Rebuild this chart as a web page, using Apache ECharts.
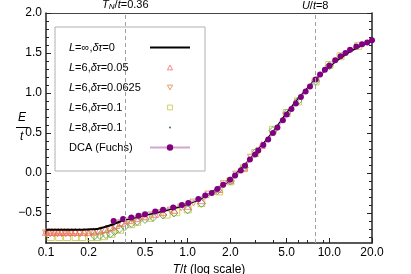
<!DOCTYPE html>
<html><head><meta charset="utf-8">
<script src="https://cdn.jsdelivr.net/npm/echarts@6/dist/echarts.min.js"></script>
<style>html,body{margin:0;padding:0;background:#fff}#c{width:411px;height:274px}</style>
</head><body><div id="c"></div>
<script>
// ---- tick labels / annotations ----
const xTickLabels = [0.1, 0.2, 0.5, 1, 2, 5, 10, 20];
const xMinorTicks = [0.3, 0.4, 0.6, 0.7, 0.8, 0.9, 3, 4, 6, 7, 8, 9];
const yTickLabels = [-0.5, 0, 0.5, 1, 1.5, 2];
const yMinorTicks = [-0.8, -0.7, -0.6, -0.4, -0.3, -0.2, -0.1, 0.1, 0.2, 0.3, 0.4, 0.6, 0.7, 0.8, 0.9, 1.1, 1.2, 1.3, 1.4, 1.6, 1.7, 1.8, 1.9];
const tNeel = 0.36;
const uOverT = 8;

// ---- series names ----
const nameInf = 'L=∞,δτ=0';
const name605 = 'L=6,δτ=0.05';
const name606 = 'L=6,δτ=0.0625';
const name61 = 'L=6,δτ=0.1';
const name81 = 'L=8,δτ=0.1';
const nameDCA = 'DCA (Fuchs)';

// ---- L=inf, dtau=0 (black curve) ----
const tInf = [0.1, 0.15, 0.2, 0.23, 0.25, 0.27, 0.3, 0.33, 0.37, 0.4, 0.46, 0.5, 0.6, 0.7, 0.8, 1.0, 1.2, 1.5, 2.0, 2.5, 3.0, 4.0, 5.0, 6.0, 8.0, 10, 12, 15, 20];
const eInf = [-0.71, -0.71, -0.705, -0.70, -0.685, -0.665, -0.64, -0.61, -0.58, -0.565, -0.54, -0.525, -0.495, -0.465, -0.44, -0.385, -0.33, -0.235, -0.08, 0.09, 0.245, 0.51, 0.745, 0.92, 1.17, 1.33, 1.44, 1.55, 1.65];

// ---- L=6, dtau=0.05 (red up triangles) ----
const t605 = [0.1, 0.105, 0.11, 0.116, 0.122, 0.128, 0.135, 0.143, 0.152, 0.161, 0.172, 0.185, 0.2, 0.217, 0.238, 0.263, 0.286, 0.313, 0.345, 0.385, 0.435, 0.5, 0.588, 0.667, 0.8, 1.0, 1.25, 1.667, 2.0, 2.5, 3.333];
const e605 = [-0.735, -0.735, -0.735, -0.735, -0.735, -0.735, -0.735, -0.735, -0.735, -0.735, -0.735, -0.735, -0.735, -0.73, -0.72, -0.70, -0.68, -0.65, -0.62, -0.59, -0.565, -0.54, -0.51, -0.49, -0.46, -0.41, -0.34, -0.20, -0.09, 0.07, 0.35];

// ---- L=6, dtau=0.0625 (orange down triangles) ----
const t606 = [0.1, 0.107, 0.114, 0.121, 0.129, 0.138, 0.148, 0.16, 0.174, 0.19, 0.21, 0.232, 0.256, 0.28, 0.307, 0.34, 0.38, 0.42, 0.48, 0.55, 0.64, 0.76, 0.9, 1.1, 1.4, 1.8, 2.2, 2.8];
const e606 = [-0.755, -0.755, -0.755, -0.755, -0.755, -0.755, -0.755, -0.755, -0.755, -0.755, -0.75, -0.74, -0.72, -0.70, -0.67, -0.64, -0.61, -0.585, -0.555, -0.53, -0.50, -0.47, -0.43, -0.37, -0.27, -0.14, -0.02, 0.19];

// ---- L=6, dtau=0.1 (yellow squares) ----
const t61 = [0.108, 0.124, 0.141, 0.162, 0.18, 0.207, 0.23, 0.257, 0.29, 0.333, 0.4, 0.44, 0.54, 0.71, 0.83, 1.0, 1.25, 1.667, 2.0, 2.5, 3.0, 4.0, 5.0, 6.0, 8.0, 10.0, 12.0, 16.0];
const e61 = [-0.80, -0.80, -0.80, -0.80, -0.80, -0.80, -0.80, -0.79, -0.76, -0.71, -0.64, -0.61, -0.56, -0.52, -0.49, -0.455, -0.375, -0.23, -0.105, 0.06, 0.25, 0.54, 0.75, 0.895, 1.145, 1.35, 1.46, 1.59];

// ---- L=8, dtau=0.1 (green) ----
const t81 = [0.22, 0.24, 0.265, 0.285, 0.305, 0.33, 0.36, 0.4, 0.44, 0.5, 0.57, 0.67, 0.8, 1.0, 1.25, 1.62, 2.0, 2.5, 3.06, 4.0, 5.0, 6.0, 8.0, 10.0];
const e81 = [-0.785, -0.78, -0.77, -0.76, -0.73, -0.70, -0.67, -0.63, -0.605, -0.58, -0.555, -0.525, -0.50, -0.46, -0.38, -0.22, -0.10, 0.07, 0.27, 0.53, 0.75, 0.90, 1.15, 1.34];

// ---- DCA (Fuchs) (purple) ----
const tDCA = [0.30, 0.35, 0.40, 0.45, 0.50, 0.59, 0.67, 0.79, 0.91, 1.01, 1.19, 1.33, 1.48, 1.62, 1.78, 1.99, 2.16, 2.37, 2.54, 2.75, 2.99, 3.15, 3.42, 3.7, 4.0, 4.3, 4.7, 5.0, 5.4, 5.8, 6.3, 6.8, 7.3, 8.0, 8.6, 9.3, 10, 11, 12, 13, 14, 15.5, 17, 18.5, 20];
const eDCA = [-0.60, -0.575, -0.555, -0.535, -0.515, -0.48, -0.46, -0.43, -0.40, -0.375, -0.325, -0.28, -0.25, -0.20, -0.146, -0.084, -0.03, 0.03, 0.09, 0.17, 0.23, 0.28, 0.35, 0.42, 0.50, 0.57, 0.66, 0.73, 0.80, 0.87, 0.95, 1.02, 1.08, 1.17, 1.23, 1.29, 1.34, 1.41, 1.46, 1.50, 1.54, 1.58, 1.61, 1.63, 1.66];

const FONT = 'Liberation Sans';
const lg = v => Math.log10(v);
const pts = (ts, es) => ts.map((t, i) => [lg(t), es[i]]);
const fmtX = v => (Math.round(Math.pow(10, v) * 10) / 10).toFixed(1);
const fmtY = v => (v < 0 ? '\u2212' : '') + Math.abs(v).toFixed(1);
// every token aligned left so the legend text starts at a common left edge
const legendFmt = n => {
  const m = n.match(/^L(=[^,]+,)δτ(=.*)$/);
  if (m) return '{i|L}{n|' + m[1] + '}{i|δτ}{n|' + m[2] + '}';
  return '{n|' + n + '}';
};

const colRed = '#f26a6a', colOrange = '#d98a4a', colYellow = '#c8c43a', colGreen = '#4a9a4a';

const chart = echarts.init(document.getElementById('c'), null, {renderer: 'canvas'});
const axisCol = '#222';
const baseX = {type: 'value', min: lg(0.1), max: lg(20), splitLine: {show: false}};
const baseY = {type: 'value', min: -0.875, max: 2.0, splitLine: {show: false}};
const openStyle = c => ({color: 'rgba(255,255,255,0)', borderColor: c, borderWidth: 1});

chart.setOption({
  animation: false,
  textStyle: {fontFamily: FONT},
  grid: {left: 46, right: 39, top: 13, bottom: 31, containLabel: false, outerBoundsMode: 'none'},
  xAxis: [
    Object.assign({}, baseX, {
      position: 'bottom',
      axisLine: {show: true, onZero: false, lineStyle: {color: axisCol, width: 1.5}},
      axisTick: {show: true, inside: true, length: 5, customValues: xTickLabels.map(lg), lineStyle: {color: axisCol}},
      axisLabel: {customValues: xTickLabels.map(lg), formatter: fmtX, color: '#000', fontSize: 12, margin: 4, fontFamily: FONT},
      name: '{i|T}/{i|t} (log scale)', nameLocation: 'middle', nameGap: 14,
      nameTextStyle: {color: '#000', fontSize: 12, fontFamily: FONT, rich: {i: {fontStyle: 'italic', fontSize: 12, fontFamily: FONT}}}
    }),
    Object.assign({}, baseX, {
      position: 'bottom',
      axisLine: {show: false, onZero: false},
      axisTick: {show: true, inside: true, length: 3, customValues: xMinorTicks.map(lg), lineStyle: {color: axisCol}},
      axisLabel: {show: false}
    }),
    Object.assign({}, baseX, {
      position: 'top',
      axisLine: {show: true, onZero: false, lineStyle: {color: '#444', width: 1.2}},
      axisTick: {show: false},
      axisLabel: {show: false}
    })
  ],
  yAxis: [
    Object.assign({}, baseY, {
      position: 'left',
      axisLine: {show: true, onZero: false, lineStyle: {color: axisCol, width: 1.5}},
      axisTick: {show: true, inside: true, length: 5, customValues: yTickLabels, lineStyle: {color: axisCol}},
      axisLabel: {customValues: yTickLabels, formatter: fmtY, color: '#000', fontSize: 12, margin: 4, fontFamily: FONT}
    }),
    Object.assign({}, baseY, {
      position: 'left',
      axisLine: {show: false, onZero: false},
      axisTick: {show: true, inside: true, length: 3, customValues: yMinorTicks, lineStyle: {color: axisCol}},
      axisLabel: {show: false}
    }),
    Object.assign({}, baseY, {
      position: 'right',
      axisLine: {show: true, onZero: false, lineStyle: {color: axisCol, width: 1.5}},
      axisTick: {show: true, inside: true, length: 5, customValues: yTickLabels, lineStyle: {color: axisCol}},
      axisLabel: {show: false}
    }),
    Object.assign({}, baseY, {
      position: 'right',
      axisLine: {show: false, onZero: false},
      axisTick: {show: true, inside: true, length: 3, customValues: yMinorTicks, lineStyle: {color: axisCol}},
      axisLabel: {show: false}
    })
  ],
  legend: {
    orient: 'vertical', left: 55, top: 27, align: 'right',
    padding: [14, 14, 17, 14], itemWidth: 40, itemHeight: 8, itemGap: 7,
    symbolKeepAspect: true,
    borderColor: '#b0b0b0', borderWidth: 1, backgroundColor: '#fff',
    textStyle: {fontFamily: FONT, fontSize: 11, color: '#000', width: 76, lineHeight: 13,
      rich: {
        i: {fontStyle: 'italic', fontSize: 11, fontFamily: FONT, align: 'left', lineHeight: 13},
        n: {fontSize: 11, fontFamily: FONT, align: 'left', lineHeight: 13}
      }},
    formatter: legendFmt,
    selectedMode: false,
    data: [
      {name: nameInf, icon: 'path://M0 0H40V2H0Z', itemStyle: {color: '#000', borderWidth: 0}},
      {name: name605, icon: 'path://M0 0M10 10M5 2L8.2 8H1.8Z', itemStyle: openStyle(colRed)},
      {name: name606, icon: 'path://M0 0M10 10M5 8L8.2 2H1.8Z', itemStyle: openStyle(colOrange)},
      {name: name61, icon: 'path://M0 0M10 10M2 2H8V8H2Z', itemStyle: openStyle(colYellow)},
      {name: name81, icon: 'path://M0 0M8 8M3 4A1 1 0 1 0 5 4A1 1 0 1 0 3 4Z', itemStyle: {color: '#005a00', borderWidth: 0}},
      {name: nameDCA}
    ]
  },
  graphic: [
    {type: 'text', left: 18, top: 112, style: {text: 'E', font: 'italic 12px "Liberation Sans"', fill: '#000'}},
    {type: 'line', shape: {x1: 16, y1: 127.5, x2: 28, y2: 127.5}, style: {stroke: '#000', lineWidth: 1}},
    {type: 'text', left: 20, top: 131, style: {text: 't', font: 'italic 12px "Liberation Sans"', fill: '#000'}}
  ],
  series: [
    {name: name61, type: 'scatter', data: pts(t61, e61), symbol: 'rect', symbolSize: 7, itemStyle: openStyle(colYellow)},
    {name: name81, type: 'scatter', data: pts(t81, e81), symbol: 'diamond', symbolSize: 8, itemStyle: openStyle(colGreen)},
    {name: name606, type: 'scatter', data: pts(t606, e606), symbol: 'triangle', symbolSize: 7, symbolRotate: 180, itemStyle: openStyle(colOrange)},
    {name: name605, type: 'scatter', data: pts(t605, e605), symbol: 'triangle', symbolSize: 7, itemStyle: openStyle(colRed)},
    {name: nameInf, type: 'line', data: pts(tInf, eInf), symbol: 'none', smooth: 0.3,
      lineStyle: {color: '#000', width: 2}, itemStyle: {color: '#000'},
      markLine: {
        silent: true, symbol: 'none',
        lineStyle: {color: '#a0a0a0', type: [4, 3], width: 1},
        label: {position: 'end', distance: 2, color: '#000', fontSize: 11, fontFamily: FONT,
          rich: {i: {fontStyle: 'italic', fontSize: 11, fontFamily: FONT}, s: {fontStyle: 'italic', fontSize: 8, fontFamily: FONT, padding: [5, 0, 0, 0]}}},
        data: [
          {xAxis: lg(tNeel), label: {formatter: '{i|T}{s|N}/{i|t}=' + tNeel}},
          {xAxis: lg(uOverT), label: {formatter: '{i|U}/{i|t}=' + uOverT}}
        ]
      }},
    {name: nameDCA, type: 'line', data: pts(tDCA, eDCA), symbol: 'circle', symbolSize: 6, showAllSymbol: true,
      itemStyle: {color: '#800080'}, lineStyle: {color: '#d4a6d4', width: 1.5}}
  ]
});
</script>
</body></html>
